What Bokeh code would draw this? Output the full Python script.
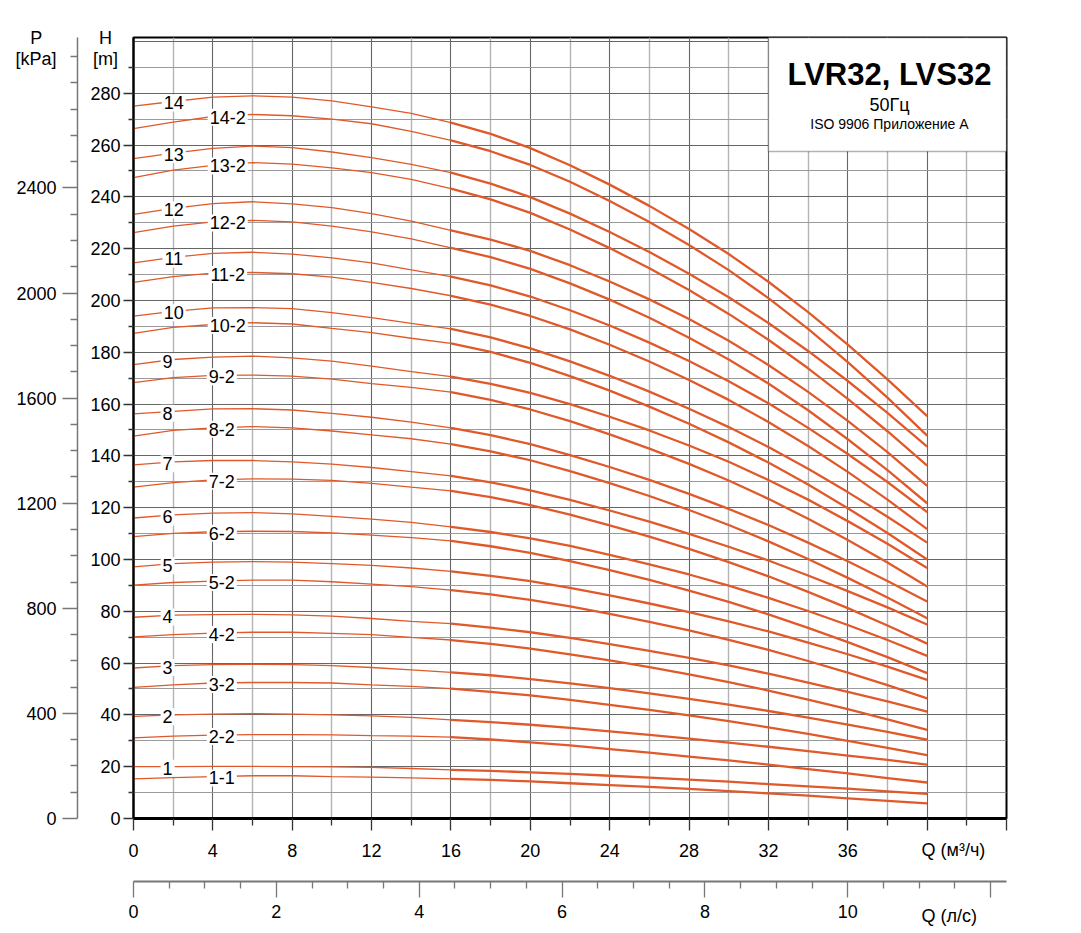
import numpy as np
from bokeh.plotting import figure
from bokeh.models import Range1d, LinearAxis, FixedTicker, Label, BoxAnnotation, ColumnDataSource
from bokeh.embed import file_html
from bokeh.resources import INLINE
from bokeh.core.properties import value

# ---------------- data ----------------
Q = [0, 2, 4, 6, 8, 10, 12, 14, 16, 18, 20, 22, 24, 26, 28, 30, 32, 34, 36, 38, 40]   # m3/h

h_14   = [275.0, 276.8, 278.5, 279.0, 278.5, 277.0, 274.7, 272.2, 268.6, 264.3, 258.8, 252.2, 244.7, 236.5, 227.6, 217.9, 207.2, 195.5, 182.9, 169.5, 155.3]
h_14_2 = [266.3, 268.8, 271.0, 271.8, 271.3, 270.0, 268.2, 265.3, 261.8, 257.6, 252.3, 245.8, 238.4, 230.3, 221.4, 211.7, 200.9, 189.0, 176.2, 162.5, 147.8]
h_13   = [254.7, 256.9, 258.7, 259.6, 259.0, 257.3, 255.1, 252.5, 249.3, 245.1, 239.9, 233.5, 226.4, 218.7, 210.3, 201.2, 191.3, 180.5, 168.9, 156.6, 143.6]
h_13_2 = [247.4, 250.3, 252.1, 253.2, 252.6, 251.2, 249.3, 246.7, 243.2, 239.0, 233.8, 227.4, 220.2, 212.4, 204.0, 194.8, 184.8, 173.8, 162.0, 149.5, 136.2]
h_12   = [233.2, 235.5, 237.4, 238.1, 237.3, 235.8, 233.5, 230.6, 227.0, 223.5, 219.1, 213.6, 207.3, 200.4, 192.8, 184.4, 175.1, 164.7, 153.5, 141.4, 128.4]
h_12_2 = [226.2, 228.7, 230.3, 230.9, 230.3, 228.7, 226.5, 223.8, 220.3, 216.7, 212.2, 206.6, 200.3, 193.3, 185.6, 177.2, 167.9, 157.6, 146.4, 134.5, 121.7]
h_11   = [214.5, 216.6, 218.2, 218.6, 217.9, 216.4, 214.5, 211.8, 209.2, 205.8, 201.5, 196.2, 190.3, 183.7, 176.6, 168.8, 160.3, 150.8, 140.7, 129.9, 118.3]
h_11_2 = [207.0, 209.2, 210.5, 210.8, 210.3, 209.0, 207.0, 204.6, 201.8, 198.4, 194.0, 188.8, 182.9, 176.4, 169.3, 161.6, 153.1, 143.8, 133.8, 123.1, 111.7]
h_10   = [193.9, 195.8, 197.1, 197.2, 196.8, 195.3, 193.4, 191.1, 189.0, 185.7, 181.5, 176.5, 170.9, 164.8, 158.2, 151.1, 143.4, 135.0, 126.0, 116.5, 106.5]
h_10_2 = [187.3, 189.6, 190.7, 191.4, 190.9, 189.2, 187.6, 185.4, 183.4, 180.1, 175.9, 170.8, 165.2, 159.0, 152.4, 145.2, 137.4, 128.9, 119.8, 110.2, 100.0]
h_9    = [175.2, 177.2, 178.1, 178.5, 177.8, 176.6, 174.6, 172.5, 170.6, 167.8, 164.3, 160.0, 155.1, 149.8, 144.0, 137.7, 130.7, 123.1, 114.8, 106.1, 96.7]
h_9_2  = [168.3, 170.2, 171.1, 171.2, 170.8, 169.6, 167.9, 166.4, 164.6, 161.6, 157.9, 153.4, 148.3, 142.8, 136.9, 130.5, 123.4, 115.7, 107.5, 98.8, 89.6]
h_8    = [156.2, 157.2, 158.1, 158.2, 157.7, 156.4, 154.9, 153.0, 150.8, 148.0, 144.5, 140.3, 135.7, 130.7, 125.3, 119.5, 113.3, 106.5, 99.3, 91.7, 83.8]
h_8_2  = [147.6, 149.8, 150.8, 151.3, 150.8, 149.6, 148.1, 146.6, 144.5, 141.7, 138.3, 134.1, 129.5, 124.5, 119.1, 113.3, 107.0, 100.2, 92.9, 85.3, 77.3]
h_7    = [136.5, 137.7, 138.2, 138.2, 137.7, 136.8, 135.5, 133.9, 132.3, 129.8, 126.7, 123.0, 118.9, 114.6, 109.9, 104.9, 99.6, 93.8, 87.8, 81.5, 74.9]
h_7_2  = [127.9, 129.7, 130.7, 131.1, 131.0, 130.5, 129.4, 127.9, 126.5, 124.1, 121.0, 117.3, 113.2, 108.8, 104.1, 99.0, 93.5, 87.5, 81.2, 74.5, 67.5]
h_6    = [116.0, 117.2, 117.9, 118.1, 117.6, 116.6, 115.6, 114.3, 112.6, 110.6, 108.1, 105.2, 101.8, 98.1, 94.2, 89.9, 85.2, 80.1, 74.7, 68.9, 62.8]
h_6_2  = [108.8, 110.1, 110.7, 110.9, 110.8, 110.3, 109.4, 108.4, 107.2, 105.1, 102.5, 99.4, 95.9, 92.1, 88.0, 83.6, 78.8, 73.6, 68.1, 62.3, 56.1]
h_5    = [97.1, 98.4, 99.0, 99.2, 99.0, 98.4, 97.7, 96.7, 95.4, 93.7, 91.6, 89.0, 86.1, 83.0, 79.7, 76.1, 72.2, 67.9, 63.4, 58.6, 53.5]
h_5_2  = [90.1, 91.1, 91.6, 92.0, 92.0, 91.4, 90.5, 89.5, 88.2, 86.5, 84.4, 81.9, 79.0, 75.9, 72.6, 69.0, 65.1, 60.8, 56.3, 51.5, 46.4]
h_4    = [77.7, 78.5, 78.7, 78.8, 78.6, 78.1, 77.2, 76.1, 75.2, 73.7, 71.9, 69.7, 67.3, 64.7, 62.0, 59.1, 55.9, 52.5, 48.9, 45.2, 41.3]
h_4_2  = [70.1, 71.0, 71.6, 71.9, 71.9, 71.5, 71.0, 69.9, 68.9, 67.4, 65.6, 63.4, 61.0, 58.4, 55.6, 52.6, 49.4, 45.9, 42.2, 38.3, 34.2]
h_3    = [58.1, 59.0, 59.4, 59.5, 59.4, 59.0, 58.3, 57.4, 56.4, 55.3, 53.8, 52.2, 50.3, 48.3, 46.2, 44.0, 41.5, 38.9, 36.2, 33.4, 30.4]
h_3_2  = [50.6, 51.6, 52.3, 52.5, 52.5, 52.3, 51.6, 51.0, 50.1, 48.9, 47.5, 45.8, 43.9, 41.9, 39.8, 37.6, 35.2, 32.7, 30.0, 27.3, 24.5]
h_2    = [39.4, 40.0, 40.3, 40.5, 40.3, 40.0, 39.6, 39.0, 38.1, 37.2, 36.2, 35.0, 33.6, 32.3, 30.8, 29.3, 27.7, 26.0, 24.3, 22.6, 20.8]
h_2_2  = [31.1, 31.8, 32.2, 32.4, 32.4, 32.3, 32.0, 31.8, 31.4, 30.5, 29.4, 28.2, 26.8, 25.4, 23.9, 22.4, 20.8, 19.1, 17.4, 15.6, 13.9]
h_1    = [20.0, 20.0, 20.1, 20.1, 20.0, 19.9, 19.7, 19.3, 18.8, 18.4, 17.8, 17.2, 16.5, 15.8, 15.0, 14.2, 13.3, 12.4, 11.5, 10.5, 9.5]
h_1_1  = [15.3, 15.8, 16.2, 16.5, 16.5, 16.2, 16.0, 15.7, 15.3, 14.9, 14.3, 13.6, 12.9, 12.2, 11.4, 10.6, 9.7, 8.8, 7.8, 6.8, 5.8]

curve_names = ["14", "14-2", "13", "13-2", "12", "12-2", "11", "11-2", "10", "10-2",
               "9", "9-2", "8", "8-2", "7", "7-2", "6", "6-2", "5", "5-2",
               "4", "4-2", "3", "3-2", "2", "2-2", "1", "1-1"]
curve_values = [h_14, h_14_2, h_13, h_13_2, h_12, h_12_2, h_11, h_11_2, h_10, h_10_2,
                h_9, h_9_2, h_8, h_8_2, h_7, h_7_2, h_6, h_6_2, h_5, h_5_2,
                h_4, h_4_2, h_3, h_3_2, h_2, h_2_2, h_1, h_1_1]

h_major = [0, 20, 40, 60, 80, 100, 120, 140, 160, 180, 200, 220, 240, 260, 280]
p_major = [0, 400, 800, 1200, 1600, 2000, 2400]
q_major = [0, 4, 8, 12, 16, 20, 24, 28, 32, 36, 40, 44]
ls_major = [0, 2, 4, 6, 8, 10, 12]
kpa_per_m = 9.86
h_top = 301.5
q_top = 44.0

title_main = "LVR32, LVS32"
title_freq = "50Гц"
title_std = "ISO 9906 Приложение А"
cap_h, cap_h_unit = "H", "[m]"
cap_p, cap_p_unit = "P", "[kPa]"
cap_q_m3h = "Q (м³/ч)"
cap_q_ls = "Q (л/с)"

# ---------------- styling ----------------
FONT = "Liberation Sans"
FS = "18px"
CURVE = "#E0592A"
GRID_MAJOR = "#666666"
GRID_MINOR = "#b4b4b4"

p = figure(width=1078, height=930, x_range=Range1d(0, q_top), y_range=Range1d(0, h_top),
           output_backend="svg", toolbar_location=None, tools="",
           min_border_left=133, min_border_right=72, min_border_top=37, min_border_bottom=112)
p.background_fill_color = "white"
p.border_fill_color = "white"
p.outline_line_color = "black"
p.outline_line_width = 2

# grids
p.xgrid[0].ticker = FixedTicker(ticks=list(range(0, 45, 4)), minor_ticks=list(range(2, 44, 4)))
p.xgrid[0].grid_line_color = GRID_MAJOR
p.xgrid[0].grid_line_width = 1.1
p.xgrid[0].minor_grid_line_color = GRID_MINOR
p.xgrid[0].minor_grid_line_width = 1.4
p.ygrid[0].ticker = FixedTicker(ticks=list(range(0, 301, 20)), minor_ticks=list(range(10, 300, 20)))
p.ygrid[0].grid_line_color = GRID_MAJOR
p.ygrid[0].grid_line_width = 1.1
p.ygrid[0].minor_grid_line_color = "#9a9a9a"
p.ygrid[0].minor_grid_line_width = 1.1

def style_axis(ax, tick_out, minor_out, standoff, line_color, line_width, size=FS):
    ax.major_tick_out = tick_out
    ax.major_tick_in = 0
    ax.minor_tick_out = minor_out
    ax.minor_tick_in = 0
    ax.major_label_standoff = standoff
    ax.axis_line_color = line_color
    ax.axis_line_width = line_width
    ax.major_tick_line_color = line_color
    ax.minor_tick_line_color = line_color
    ax.major_tick_line_width = 1.3
    ax.minor_tick_line_width = 1.3
    ax.major_label_text_font = FONT
    ax.major_label_text_font_size = size
    ax.major_label_text_color = "black"

def reserve_space(ax, text, size, standoff):
    # an un-drawn axis label only used to reserve room in the side panel
    ax.axis_label = text
    ax.axis_label_text_font_size = size
    ax.axis_label_standoff = standoff
    ax.axis_label_text_color = None

# main Q axis (m3/h)
xa = p.xaxis[0]
xa.ticker = FixedTicker(ticks=q_major, minor_ticks=[q + 2 for q in q_major[:-1]])
xa.major_label_overrides = {40: "", 44: ""}
style_axis(xa, 12, 7, 13, "black", 3)
xa.major_tick_line_color = "#333333"
xa.minor_tick_line_color = "#333333"
reserve_space(xa, cap_q_m3h, "13px", 4)

# H axis (m)
ya = p.yaxis[0]
ya.ticker = FixedTicker(ticks=h_major, minor_ticks=[h + 10 for h in h_major])
style_axis(ya, 10, 5, 3, "black", 2)
ya.major_tick_line_color = "#333333"
ya.minor_tick_line_color = "#333333"
reserve_space(ya, cap_h_unit, "7px", 0)

# P axis (kPa)
p.extra_y_ranges = {"p": Range1d(0, h_top * kpa_per_m)}
pa = LinearAxis(y_range_name="p",
                ticker=FixedTicker(ticks=p_major,
                                   minor_ticks=[v for v in range(100, 3000, 100) if v not in p_major]))
style_axis(pa, 15, 7, 6, "#777777", 1.5)
p.add_layout(pa, "left")

# Q axis (l/s)
p.extra_x_ranges = {"ls": Range1d(0, q_top / 3.6)}
la = LinearAxis(x_range_name="ls",
                ticker=FixedTicker(ticks=ls_major,
                                   minor_ticks=[v / 2 for v in range(1, 24) if v % 4 != 0]))
la.major_label_overrides = {12: ""}
style_axis(la, 16, 7, 7, "#777777", 2)
p.add_layout(la, "below")

# curves: thin part up to 16 m3/h, thick part beyond
split = Q.index(16)
for vals in curve_values:
    p.line(Q[:split + 1], vals[:split + 1], line_color=CURVE, line_width=1.3)
    p.line(Q[split:], vals[split:], line_color=CURVE, line_width=2.3, line_join="round")

# curve labels
lab_x, lab_y = [], []
for name, vals in zip(curve_names, curve_values):
    reduced = "-" in name
    two_digit = len(name.split("-")[0]) == 2
    if reduced:
        x = 4.75 if two_digit else 4.45
    else:
        x = 2.03 if two_digit else 1.72
    lab_x.append(x)
    lab_y.append(float(np.interp(x, Q, vals)) - 0.6)
src = ColumnDataSource(dict(x=lab_x, y=lab_y, text=curve_names))
p.text(x="x", y="y", text="text", source=src, text_font=value(FONT), text_font_size=FS,
       text_align="center", text_baseline="middle", text_color="black",
       background_fill_color="white", padding=2)

# title box
p.add_layout(BoxAnnotation(left=32, right=q_top, bottom=257.5, top=h_top, fill_color="white",
                           fill_alpha=1.0, line_color="black", line_width=1.5))
p.add_layout(Label(x=38.1, y=287.3, text=title_main, text_font=FONT, text_font_size="31px",
                   text_font_style="bold", text_align="center", text_baseline="middle",
                   text_color="black"))
p.add_layout(Label(x=38.1, y=275.3, text=title_freq, text_font=FONT, text_font_size="18px",
                   text_align="center", text_baseline="middle", text_color="black"))
p.add_layout(Label(x=38.1, y=268.1, text=title_std, text_font=FONT, text_font_size="14px",
                   text_align="center", text_baseline="middle", text_color="black"))

# axis captions, drawn on the overlay level so they are not clipped to the frame
caps_c = ColumnDataSource(dict(x=[-1.41, -1.41, -4.9, -4.91], y=[301.35, 293.1, 301.35, 293.1],
                               text=[cap_h, cap_h_unit, cap_p, cap_p_unit]))
p.text(x="x", y="y", text="text", source=caps_c, text_font=value(FONT), text_font_size=FS,
       text_align="center", text_baseline="middle", text_color="black", level="overlay")
caps_l = ColumnDataSource(dict(x=[39.72, 39.72], y=[-12.24, -37.45], text=[cap_q_m3h, cap_q_ls]))
p.text(x="x", y="y", text="text", source=caps_l, text_font=value(FONT), text_font_size=FS,
       text_align="left", text_baseline="middle", text_color="black", level="overlay")

open("out.html", "w").write(file_html(p, INLINE))
